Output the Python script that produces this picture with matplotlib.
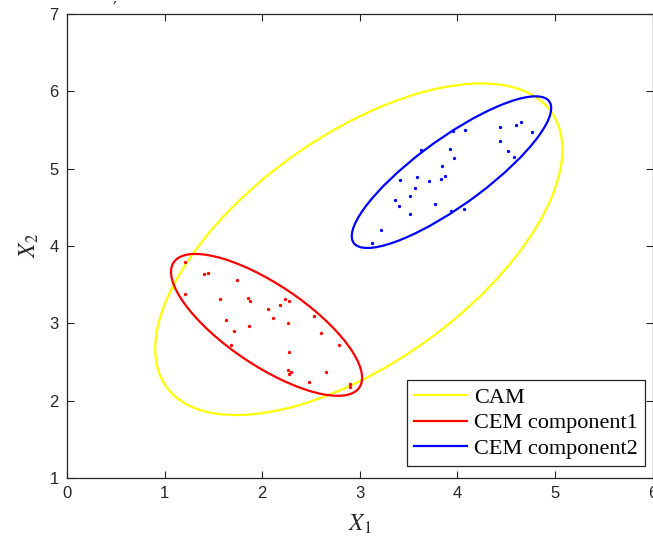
import numpy as np
import matplotlib
matplotlib.use("Agg")
import matplotlib.pyplot as plt
from matplotlib.patches import Ellipse
from matplotlib.lines import Line2D

plt.rcParams['mathtext.fontset'] = 'stix'

# ---- data ----
red_x = [1.21, 1.40, 1.45, 1.74, 1.21, 1.57, 1.85, 1.88, 2.23, 2.28, 2.18, 2.06, 2.11, 1.63,
         2.53, 2.26, 1.86, 1.71, 2.60, 1.68, 2.79, 2.28, 2.26, 2.30, 2.28, 2.65, 2.48, 2.90, 2.90]
red_y = [3.79, 3.64, 3.65, 3.56, 3.38, 3.32, 3.33, 3.29, 3.31, 3.29, 3.24, 3.19, 3.07, 3.04,
         3.10, 3.00, 2.96, 2.90, 2.87, 2.72, 2.72, 2.63, 2.40, 2.37, 2.35, 2.37, 2.24, 2.22, 2.18]
blue_x = [4.65, 4.60, 4.44, 4.08, 3.96, 4.77, 4.44, 3.63, 3.92, 4.52, 3.97, 4.58, 3.84, 3.87,
          3.59, 3.83, 3.41, 3.71, 3.57, 3.51, 3.36, 3.40, 3.77, 4.07, 3.94, 3.51, 3.22, 3.13]
blue_y = [5.60, 5.56, 5.54, 5.50, 5.49, 5.48, 5.36, 5.24, 5.25, 5.23, 5.14, 5.15, 5.04, 4.91,
          4.89, 4.86, 4.85, 4.84, 4.75, 4.65, 4.60, 4.52, 4.54, 4.48, 4.45, 4.42, 4.21, 4.04]

ellipse_labels = ['CAM', 'CEM component1', 'CEM component2']
ellipse_centers = [(2.99, 3.958), (2.045, 2.98), (3.94, 4.955)]
ellipse_semi_major = [2.677, 1.254, 1.360]
ellipse_semi_minor = [1.335, 0.4775, 0.396]
ellipse_angles = [46.3, -42.5, 43.6]
ellipse_colors = ['#FFFF00', '#FF0000', '#0000FF']

x_ticks = [0, 1, 2, 3, 4, 5, 6]
y_ticks = [1, 2, 3, 4, 5, 6, 7]

# ---- figure ----
W, H = 653, 542
fig = plt.figure(figsize=(W / 100, H / 100), dpi=100)
ax = fig.add_axes([67 / W, 64 / H, (652.5 - 67) / W, (478 - 14) / H])

for c, a, b, ang, col in zip(ellipse_centers, ellipse_semi_major, ellipse_semi_minor,
                             ellipse_angles, ellipse_colors):
    ax.add_patch(Ellipse(c, 2 * a, 2 * b, angle=ang, fill=False, edgecolor=col, linewidth=1.6, zorder=2))

ax.plot(red_x, red_y, 'o', color='#FF0000', markersize=2.4, markeredgewidth=0, zorder=3)
ax.plot(blue_x, blue_y, 'o', color='#0000FF', markersize=2.4, markeredgewidth=0, zorder=3)

ax.set_xlim(0, 6)
ax.set_ylim(1, 7)
ax.set_xticks(x_ticks)
ax.set_yticks(y_ticks)
ax.set_xticklabels([str(t) for t in x_ticks], family='Liberation Sans', fontsize=12, color='#262626')
ax.set_yticklabels([str(t) for t in y_ticks], family='Liberation Sans', fontsize=12, color='#262626')
ax.tick_params(direction='in', length=5, width=0.8, color='#262626', top=True, right=True, pad=6)
for s in ax.spines.values():
    s.set_linewidth(0.9)
    s.set_color('#262626')

ax.set_xlabel('$X_1$', fontsize=17, color='#262626', labelpad=8)
ax.set_ylabel('$X_2$', fontsize=17, color='#262626', labelpad=6)

handles = [Line2D([], [], color=col, linewidth=1.6) for col in ellipse_colors]
leg = ax.legend(handles, ellipse_labels, loc='lower right', bbox_to_anchor=(0.987, 0.026),
                prop={'family': 'Liberation Serif', 'size': 16}, frameon=True, fancybox=False,
                framealpha=1, edgecolor='#262626', handlelength=2.4, handletextpad=0.3,
                labelspacing=0.22, borderpad=0.32, borderaxespad=0)
leg.get_frame().set_linewidth(0.9)

fig.text(115 / W, 1 - 8 / H, '\u2032', fontsize=12, color='#262626', ha='center', va='center')

fig.savefig('out.png', dpi=100)
